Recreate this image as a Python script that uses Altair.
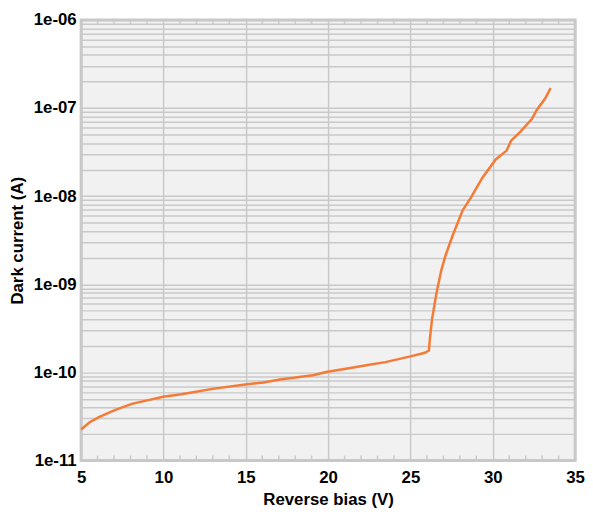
import altair as alt
import pandas as pd

# Reverse bias (V) and dark current (A)
bias = [5.0, 5.5, 6.08, 7.08, 8.08, 8.88, 9.98, 11.08, 13.08, 15.08, 16.08, 17.08,
        19.08, 19.88, 21.08, 22.5, 23.48, 25.0, 25.88, 26.12, 26.18, 26.31, 26.58,
        26.88, 27.14, 27.57, 28.17, 28.68, 29.37, 30.18, 30.84, 31.11, 31.68,
        32.37, 32.67, 33.18, 33.51]
current = [2.25e-11, 2.7e-11, 3.11e-11, 3.76e-11, 4.4e-11, 4.76e-11, 5.3e-11, 5.65e-11,
           6.55e-11, 7.33e-11, 7.69e-11, 8.3e-11, 9.3e-11, 1.01e-10, 1.1e-10, 1.22e-10,
           1.31e-10, 1.52e-10, 1.67e-10, 1.77e-10, 2.4e-10, 4.0e-10, 7.98e-10,
           1.46e-09, 2.15e-09, 3.6e-09, 6.9e-09, 9.7e-09, 1.62e-08, 2.61e-08, 3.29e-08,
           4.26e-08, 5.41e-08, 7.5e-08, 9.5e-08, 1.28e-07, 1.68e-07]

x_major = [5, 10, 15, 20, 25, 30, 35]
x_minor = [v for v in range(6, 35) if v % 5 != 0]
y_values = [m * 10.0 ** k for k in range(-11, -6) for m in range(1, 10)] + [1e-6]

df = pd.DataFrame({"bias": bias, "current": current})
minor_df = pd.DataFrame({"tick": x_minor})

W, H = 500, 446
FONT = "Liberation Sans"
GRID = "#c9c9c9"

xscale = alt.Scale(domain=[5, 35], nice=False, zero=False)
yscale = alt.Scale(type="log", domain=[1e-11, 1e-6], nice=False)

line = alt.Chart(df).mark_line(color="#f47a35", strokeWidth=2.5).encode(
    x=alt.X("bias:Q", scale=xscale,
            axis=alt.Axis(values=x_major, title="Reverse bias (V)", grid=True,
                          gridColor=GRID, gridWidth=1.5, ticks=False, domain=False,
                          labelFont=FONT, labelFontSize=17, labelFontWeight="bold",
                          labelColor="#000", labelPadding=9, labelFlush=False,
                          titleFont=FONT, titleFontSize=17, titleFontWeight="bold",
                          titleColor="#000", titlePadding=6)),
    y=alt.Y("current:Q", scale=yscale,
            axis=alt.Axis(values=y_values, title="Dark current (A)", grid=True,
                          gridColor=GRID, gridWidth=1.5, ticks=False, domain=False,
                          labelOverlap=False, labelBound=False,
                          labelExpr="abs(log(datum.value)/LN10 - round(log(datum.value)/LN10)) < 0.001 ? '1e-' + (-round(log(datum.value)/LN10) < 10 ? '0' : '') + (-round(log(datum.value)/LN10)) : ''",
                          labelFont=FONT, labelFontSize=17, labelFontWeight="bold",
                          labelColor="#000", labelPadding=5,
                          titleFont=FONT, titleFontSize=17, titleFontWeight="bold",
                          titleColor="#000", titlePadding=7)),
)

bottom_ticks = alt.Chart(minor_df).mark_rule(color=GRID, strokeWidth=1.5).encode(
    x=alt.X("tick:Q", scale=xscale), y=alt.value(H), y2=alt.value(H - 5))
top_ticks = alt.Chart(minor_df).mark_rule(color=GRID, strokeWidth=1.5).encode(
    x=alt.X("tick:Q", scale=xscale), y=alt.value(0), y2=alt.value(5))

chart = alt.layer(bottom_ticks, top_ticks, line).properties(
    width=W, height=H,
    autosize=alt.AutoSizeParams(type="none"),
    padding={"left": 74, "top": 9, "right": 10, "bottom": 48},
).configure_view(fill="#f1f1f1", stroke="#c8c8c8", strokeWidth=3)

chart.save("out.html", embed_options={"renderer": "svg", "actions": False})
